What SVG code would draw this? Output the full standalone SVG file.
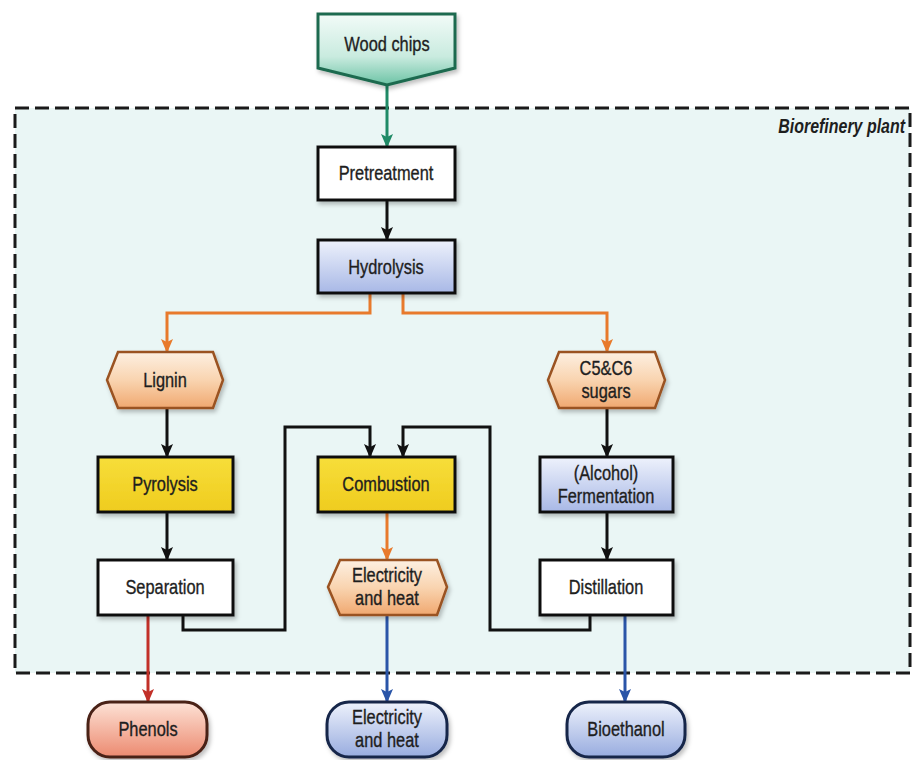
<svg xmlns="http://www.w3.org/2000/svg" width="914" height="760" viewBox="0 0 914 760">
<defs>
<linearGradient id="gTeal" x1="0" y1="0" x2="0" y2="1"><stop offset="0" stop-color="#f2fbf8"/><stop offset="0.6" stop-color="#c9ebdf"/><stop offset="1" stop-color="#6cc3a5"/></linearGradient>
<linearGradient id="gBlue" x1="0" y1="0" x2="0" y2="1"><stop offset="0" stop-color="#eef2fc"/><stop offset="1" stop-color="#a8b8e6"/></linearGradient>
<linearGradient id="gYellow" x1="0" y1="0" x2="0" y2="1"><stop offset="0" stop-color="#f7de3a"/><stop offset="1" stop-color="#efcc1e"/></linearGradient>
<linearGradient id="gOrange" x1="0" y1="0" x2="0" y2="1"><stop offset="0" stop-color="#fdf0e2"/><stop offset="0.5" stop-color="#f9d4b0"/><stop offset="1" stop-color="#f0a870"/></linearGradient>
<linearGradient id="gRed" x1="0" y1="0" x2="0" y2="1"><stop offset="0" stop-color="#fde2d6"/><stop offset="1" stop-color="#ec8a70"/></linearGradient>
<linearGradient id="gBlueOut" x1="0" y1="0" x2="0" y2="1"><stop offset="0" stop-color="#eef2fc"/><stop offset="1" stop-color="#98acdf"/></linearGradient>
<filter id="sh" x="-10%" y="-10%" width="130%" height="140%"><feDropShadow dx="2" dy="3" stdDeviation="2" flood-color="#000" flood-opacity="0.25"/></filter>
<marker id="aK" markerUnits="userSpaceOnUse" markerWidth="14" markerHeight="12" refX="13" refY="6" orient="auto"><path d="M0,0 L14,6 L0,12 L3,6 z" fill="#111"/></marker>
<marker id="aO" markerUnits="userSpaceOnUse" markerWidth="14" markerHeight="12" refX="13" refY="6" orient="auto"><path d="M0,0 L14,6 L0,12 L3,6 z" fill="#e87a2c"/></marker>
<marker id="aG" markerUnits="userSpaceOnUse" markerWidth="14" markerHeight="12" refX="13" refY="6" orient="auto"><path d="M0,0 L14,6 L0,12 L3,6 z" fill="#1f8a66"/></marker>
<marker id="aR" markerUnits="userSpaceOnUse" markerWidth="14" markerHeight="12" refX="13" refY="6" orient="auto"><path d="M0,0 L14,6 L0,12 L3,6 z" fill="#c23028"/></marker>
<marker id="aB" markerUnits="userSpaceOnUse" markerWidth="14" markerHeight="12" refX="13" refY="6" orient="auto"><path d="M0,0 L14,6 L0,12 L3,6 z" fill="#2a55a8"/></marker>
</defs>
<style>
text{font-family:'Liberation Sans',Arial,sans-serif;font-size:20px;fill:#1e1e1e;stroke:#1e1e1e;stroke-width:0.35;text-anchor:middle;dominant-baseline:central}
.box{stroke:#111;stroke-width:3;filter:url(#sh)}
.hex{stroke:#9a5220;stroke-width:2.5;fill:url(#gOrange);filter:url(#sh)}
.c{fill:none;stroke-width:3;stroke-linejoin:miter}
.k{stroke:#111;marker-end:url(#aK)}
.o{stroke:#e87a2c;marker-end:url(#aO)}
.g{stroke:#1f8a66;marker-end:url(#aG)}
.r{stroke:#c23028;marker-end:url(#aR)}
.b{stroke:#2a55a8;marker-end:url(#aB)}
</style>
<rect width="914" height="760" fill="#ffffff"/>
<g id="plant">
<rect x="15" y="108" width="895" height="565" fill="#eaf6f5" stroke="#1a1a1a" stroke-width="3" stroke-dasharray="14 6"/>
<text transform="translate(905,126) scale(0.76,1)" style="text-anchor:end;font-style:italic;font-weight:bold;font-size:21px;stroke-width:0">Biorefinery plant</text>
</g>
<g id="connectors">
<path class="c g" d="M387,85 V147"/>
<path class="c k" d="M387,200 V240"/>
<path class="c o" d="M370,293 V313 H167 V352"/>
<path class="c o" d="M403,293 V313 H607 V352"/>
<path class="c k" d="M167,408 V457"/>
<path class="c k" d="M167,512 V560"/>
<path class="c k" d="M183,615 V630 H285 V427 H370 V457"/>
<path class="c k" d="M607,408 V457"/>
<path class="c k" d="M607,512 V560"/>
<path class="c k" d="M590,615 V630 H490 V427 H403 V457"/>
<path class="c o" d="M387,512 V560"/>
<path class="c r" d="M148,615 V702"/>
<path class="c b" d="M387,615 V702"/>
<path class="c b" d="M625,615 V702"/>
</g>
<g id="woodchips">
<path d="M318,14 H455 V68 L387,85 L318,68 Z" fill="url(#gTeal)" stroke="#1f6b4f" stroke-width="3" filter="url(#sh)"/>
<text transform="translate(387,44) scale(0.82,1)">Wood chips</text>
</g>
<g id="pretreatment">
<rect class="box" x="318" y="147" width="137" height="53" fill="#ffffff"/>
<text transform="translate(386,173) scale(0.82,1)">Pretreatment</text>
</g>
<g id="hydrolysis">
<rect class="box" x="318" y="240" width="137" height="53" fill="url(#gBlue)"/>
<text transform="translate(386,267) scale(0.82,1)">Hydrolysis</text>
</g>
<g id="lignin">
<path class="hex" d="M118,352 H213 L223,380 L213,408 H118 L107,380 Z"/>
<text transform="translate(165,380) scale(0.82,1)">Lignin</text>
</g>
<g id="sugars">
<path class="hex" d="M559,352 H655 L665,380 L655,408 H559 L548,380 Z"/>
<text transform="translate(606,368) scale(0.82,1)">C5&amp;C6</text>
<text transform="translate(606,391) scale(0.82,1)">sugars</text>
</g>
<g id="pyrolysis">
<rect class="box" x="98" y="457" width="135" height="55" fill="url(#gYellow)"/>
<text transform="translate(165,484) scale(0.82,1)">Pyrolysis</text>
</g>
<g id="combustion">
<rect class="box" x="318" y="457" width="137" height="55" fill="url(#gYellow)"/>
<text transform="translate(386,484) scale(0.82,1)">Combustion</text>
</g>
<g id="fermentation">
<rect class="box" x="540" y="457" width="133" height="55" fill="url(#gBlue)"/>
<text transform="translate(606,473) scale(0.82,1)">(Alcohol)</text>
<text transform="translate(606,496) scale(0.82,1)">Fermentation</text>
</g>
<g id="separation">
<rect class="box" x="98" y="560" width="135" height="55" fill="#ffffff"/>
<text transform="translate(165,587) scale(0.82,1)">Separation</text>
</g>
<g id="elecheat">
<path class="hex" d="M340,560 H437 L447,587 L437,615 H340 L328,587 Z"/>
<text transform="translate(387,575) scale(0.82,1)">Electricity</text>
<text transform="translate(387,598) scale(0.82,1)">and heat</text>
</g>
<g id="distillation">
<rect class="box" x="540" y="560" width="133" height="55" fill="#ffffff"/>
<text transform="translate(606,587) scale(0.82,1)">Distillation</text>
</g>
<g id="phenols">
<rect x="88" y="702" width="119" height="55" rx="22" fill="url(#gRed)" stroke="#4a2018" stroke-width="3" filter="url(#sh)"/>
<text transform="translate(148,729) scale(0.82,1)">Phenols</text>
</g>
<g id="elecout">
<rect x="327" y="702" width="120" height="55" rx="22" fill="url(#gBlueOut)" stroke="#16264a" stroke-width="3" filter="url(#sh)"/>
<text transform="translate(387,717) scale(0.82,1)">Electricity</text>
<text transform="translate(387,740) scale(0.82,1)">and heat</text>
</g>
<g id="bioethanol">
<rect x="567" y="702" width="118" height="55" rx="22" fill="url(#gBlueOut)" stroke="#16264a" stroke-width="3" filter="url(#sh)"/>
<text transform="translate(626,729) scale(0.82,1)">Bioethanol</text>
</g>
</svg>
